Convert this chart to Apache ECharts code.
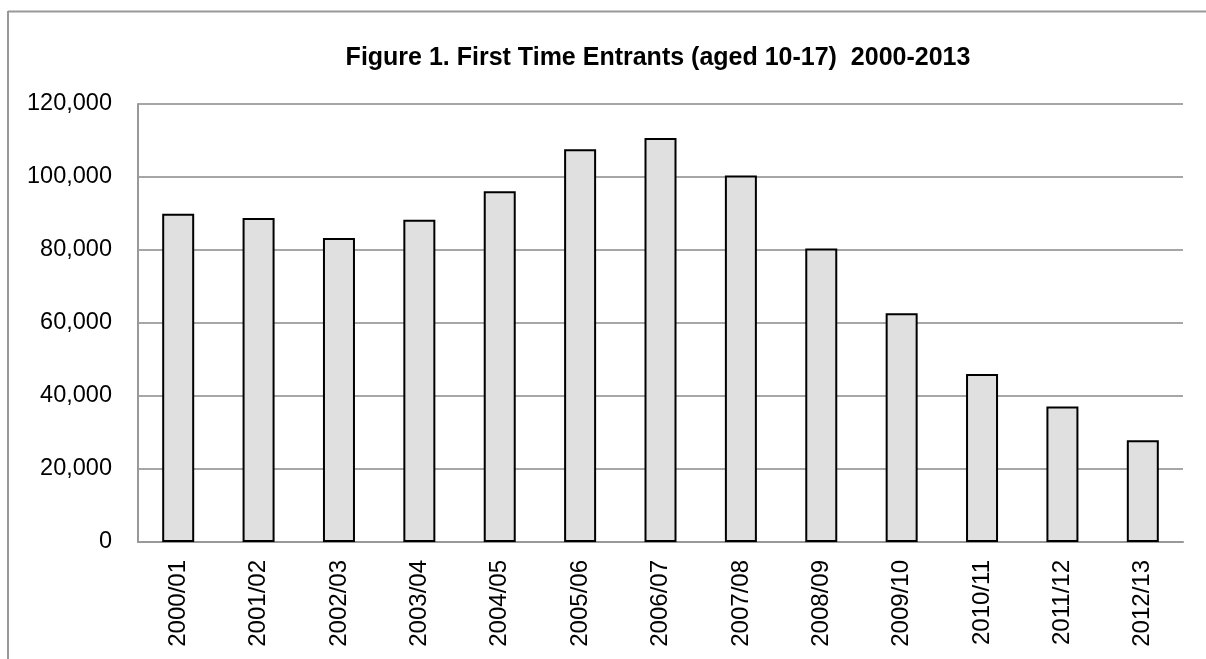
<!DOCTYPE html>
<html>
<head>
<meta charset="utf-8">
<script src="https://cdn.jsdelivr.net/npm/echarts@6/dist/echarts.min.js"></script>
<style>
  html, body { margin: 0; padding: 0; background: #fff; }
  #chart { width: 1206px; height: 659px; }
</style>
</head>
<body>
<div id="chart"></div>
<script>
// first time entrants
const years = ['2000/01', '2001/02', '2002/03', '2003/04', '2004/05', '2005/06', '2006/07',
               '2007/08', '2008/09', '2009/10', '2010/11', '2011/12', '2012/13'];
const entrants = [89900, 88800, 83300, 88300, 96100, 107600, 110700,
                  100400, 80400, 62700, 46000, 37100, 27900];
const yTicks = [0, 20000, 40000, 60000, 80000, 100000, 120000];

const chart = echarts.init(document.getElementById('chart'));

const option = {
    animation: false,
    backgroundColor: '#fff',
    title: {
        text: 'Figure 1. First Time Entrants (aged 10-17)  2000-2013',
        left: 653,
        textAlign: 'center',
        top: 41,
        textStyle: {
            fontFamily: 'Liberation Sans, sans-serif',
            fontWeight: 'bold',
            fontSize: 25,
            color: '#000'
        }
    },
    graphic: [
        { type: 'line', shape: { x1: 8, y1: 11.5, x2: 1206, y2: 11.5 }, style: { stroke: '#999', lineWidth: 2 } },
        { type: 'line', shape: { x1: 8, y1: 11, x2: 8, y2: 659 }, style: { stroke: '#999', lineWidth: 2 } }
    ],
    grid: { left: 138, right: 23, top: 104, bottom: 117 },
    xAxis: {
        type: 'category',
        data: years,
        axisLine: { lineStyle: { color: '#999', width: 2 } },
        axisTick: { show: false },
        axisLabel: {
            rotate: 90,
            margin: 18,
            fontFamily: 'Liberation Sans, Arial, sans-serif',
            fontSize: 24,
            color: '#000'
        }
    },
    yAxis: {
        type: 'value',
        min: yTicks[0],
        max: yTicks[yTicks.length - 1],
        interval: yTicks[1] - yTicks[0],
        axisLine: { show: true, lineStyle: { color: '#999', width: 2 } },
        axisTick: { show: false },
        splitLine: { lineStyle: { color: '#a6a6a6', width: 2 } },
        axisLabel: {
            margin: 26,
            fontFamily: 'Liberation Sans, Arial, sans-serif',
            fontSize: 23.5,
            color: '#000',
            formatter: v => v.toLocaleString('en-US')
        }
    },
    series: [{
        type: 'bar',
        data: entrants,
        barWidth: 32,
        itemStyle: { color: '#e0e0e0', borderColor: '#000', borderWidth: 2 }
    }]
};

chart.setOption(option);
</script>
</body>
</html>
